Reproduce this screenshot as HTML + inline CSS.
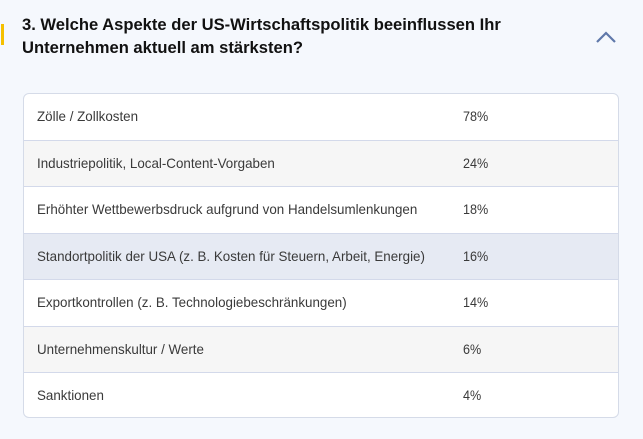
<!DOCTYPE html>
<html><head><meta charset="utf-8">
<style>
html,body{margin:0;padding:0;}
body{width:643px;height:439px;background:#f5f8fd;font-family:"Liberation Sans",sans-serif;position:relative;overflow:hidden;}
.bar{position:absolute;left:1px;top:24px;width:3px;height:21px;background:#f5c000;}
.title{position:absolute;left:22px;top:13px;font-weight:bold;font-size:17px;line-height:23px;color:#111;transform:scaleX(0.975);transform-origin:left top;white-space:nowrap;}
.chev{position:absolute;left:594px;top:28px;}
.table{position:absolute;left:23px;top:93px;width:596px;height:325px;border:1px solid #d5dbe8;border-radius:6px;background:#fff;overflow:hidden;box-sizing:border-box;}
.row{position:absolute;left:0;right:0;height:46px;border-top:1px solid #d3d9ea;box-sizing:border-box;}
.row:first-child{border-top:none;}
.g{background:#f6f6f6;}
.h{background:#e6eaf3;}
.t{position:absolute;left:13px;top:14px;font-size:14px;color:#3a3a3a;white-space:nowrap;transform:scaleX(0.955);transform-origin:left top;}
.p{position:absolute;left:439px;top:14px;font-size:14px;color:#3a3a3a;transform:scaleX(0.9);transform-origin:left top;}
</style></head><body>
<div class="bar"></div>
<div class="title">3. Welche Aspekte der US-Wirtschaftspolitik beeinflussen Ihr<br>Unternehmen aktuell am stärksten?</div>
<svg class="chev" width="26" height="18"><polyline points="3,14 12,5 21,14" fill="none" stroke="#5f78aa" stroke-width="2.2"/></svg>
<div class="table">
<div class="row" style="top:0"><span class="t">Zölle / Zollkosten</span><span class="p">78%</span></div>
<div class="row g" style="top:46px"><span class="t">Industriepolitik, Local-Content-Vorgaben</span><span class="p">24%</span></div>
<div class="row" style="top:92px"><span class="t">Erhöhter Wettbewerbsdruck aufgrund von Handelsumlenkungen</span><span class="p">18%</span></div>
<div class="row h" style="top:139px"><span class="t">Standortpolitik der USA (z. B. Kosten für Steuern, Arbeit, Energie)</span><span class="p">16%</span></div>
<div class="row" style="top:185px"><span class="t">Exportkontrollen (z. B. Technologiebeschränkungen)</span><span class="p">14%</span></div>
<div class="row g" style="top:232px"><span class="t">Unternehmenskultur / Werte</span><span class="p">6%</span></div>
<div class="row" style="top:278px;height:47px"><span class="t">Sanktionen</span><span class="p">4%</span></div>
</div>
</body></html>
